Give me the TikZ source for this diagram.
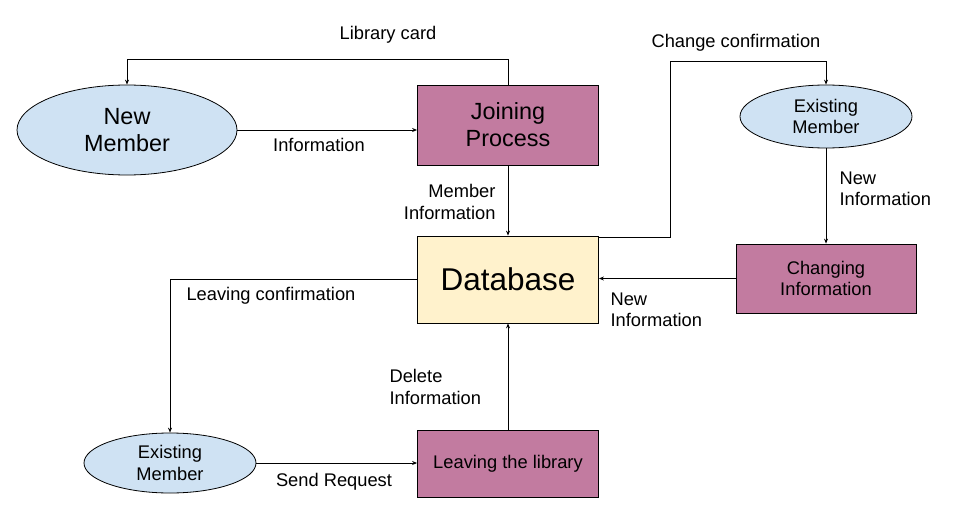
\documentclass[tikz,border=0pt]{standalone}
\usepackage{fontspec}
\setmainfont{Liberation Sans}
\usepackage{xcolor}
\usetikzlibrary{shapes,arrows.meta,positioning}

\definecolor{memberblue}{HTML}{CFE2F3}
\definecolor{procpink}{HTML}{C27BA0}
\definecolor{dbyellow}{HTML}{FFF2CC}

\begin{document}
\begin{tikzpicture}[x=1pt,y=-1pt,
    member/.style={ellipse,draw,fill=memberblue,line width=0.8pt,align=center,inner sep=0pt},
    proc/.style={rectangle,draw,fill=procpink,line width=0.8pt,align=center,inner sep=0pt},
    store/.style={rectangle,draw,fill=dbyellow,line width=0.8pt,align=center,inner sep=0pt},
    flow/.style={-{Stealth[length=5pt,width=4pt]},line width=0.8pt},
    lbl/.style={font=\fontsize{18.3}{21.5}\selectfont,align=left}]
\useasboundingbox (0,0) rectangle (955,508);

% Member ellipses
\node[member,minimum width=220,minimum height=90,font=\fontsize{23.4}{27}\selectfont] (newm) at (127,130) {New\\Member};
\node[member,minimum width=172,minimum height=63,font=\fontsize{18.3}{21.5}\selectfont] (exmtop) at (826,116.5) {Existing\\Member};
\node[member,minimum width=172,minimum height=60,font=\fontsize{18.3}{21.5}\selectfont] (exmbot) at (170,463) {Existing\\Member};

% Processes
\node[proc,minimum width=181,minimum height=80,font=\fontsize{23.4}{27}\selectfont] (join) at (508,125) {Joining\\Process};
\node[proc,minimum width=180,minimum height=69,font=\fontsize{18.3}{21.5}\selectfont] (change) at (826,278.5) {Changing\\Information};
\node[proc,minimum width=181,minimum height=67,font=\fontsize{18.3}{21.5}\selectfont] (leave) at (508,463.5) {Leaving the library};

% Database
\node[store,minimum width=181,minimum height=87,font=\fontsize{31.5}{36}\selectfont] (db) at (508,279.5) {Database};

% Flows
\draw[flow] (join.north) -- ++(0,-25) -| (newm.north);
\node[lbl] (lcard) at (388,35) {Library card};

\draw[flow] (newm.east) -- (newm.east -| join.west);
\node[lbl] (info) at (319,145) {Information};

\draw[flow] (join.south) -- (db.north);
\node[lbl,anchor=east,align=right] (meminfo) at (499,202) {Member\\Information};

\coordinate (cbend) at (670,61);
\draw[flow] ([yshift=-2pt]db.north east) -| (cbend) -| (exmtop.north);
\node[lbl] (cconf) at (736,43) {Change confirmation};

\draw[flow] (exmtop.south) -- (change.north);
\node[lbl,anchor=west] (newinfoa) at (836,189) {New\\Information};

\draw[flow] (change.west) -- (change.west -| db.east);
\node[lbl,anchor=west] (newinfob) at (607,310) {New\\Information};

\draw[flow] (db.west) -| (exmbot.north);
\node[lbl] (lconf) at (271,296) {Leaving confirmation};

\draw[flow] (exmbot.east) -- (exmbot.east -| leave.west);
\node[lbl] (sendreq) at (334,482) {Send Request};

\draw[flow] (leave.north) -- (db.south);
\node[lbl,anchor=west] (delinfo) at (386,387) {Delete\\Information};

\end{tikzpicture}
\end{document}
